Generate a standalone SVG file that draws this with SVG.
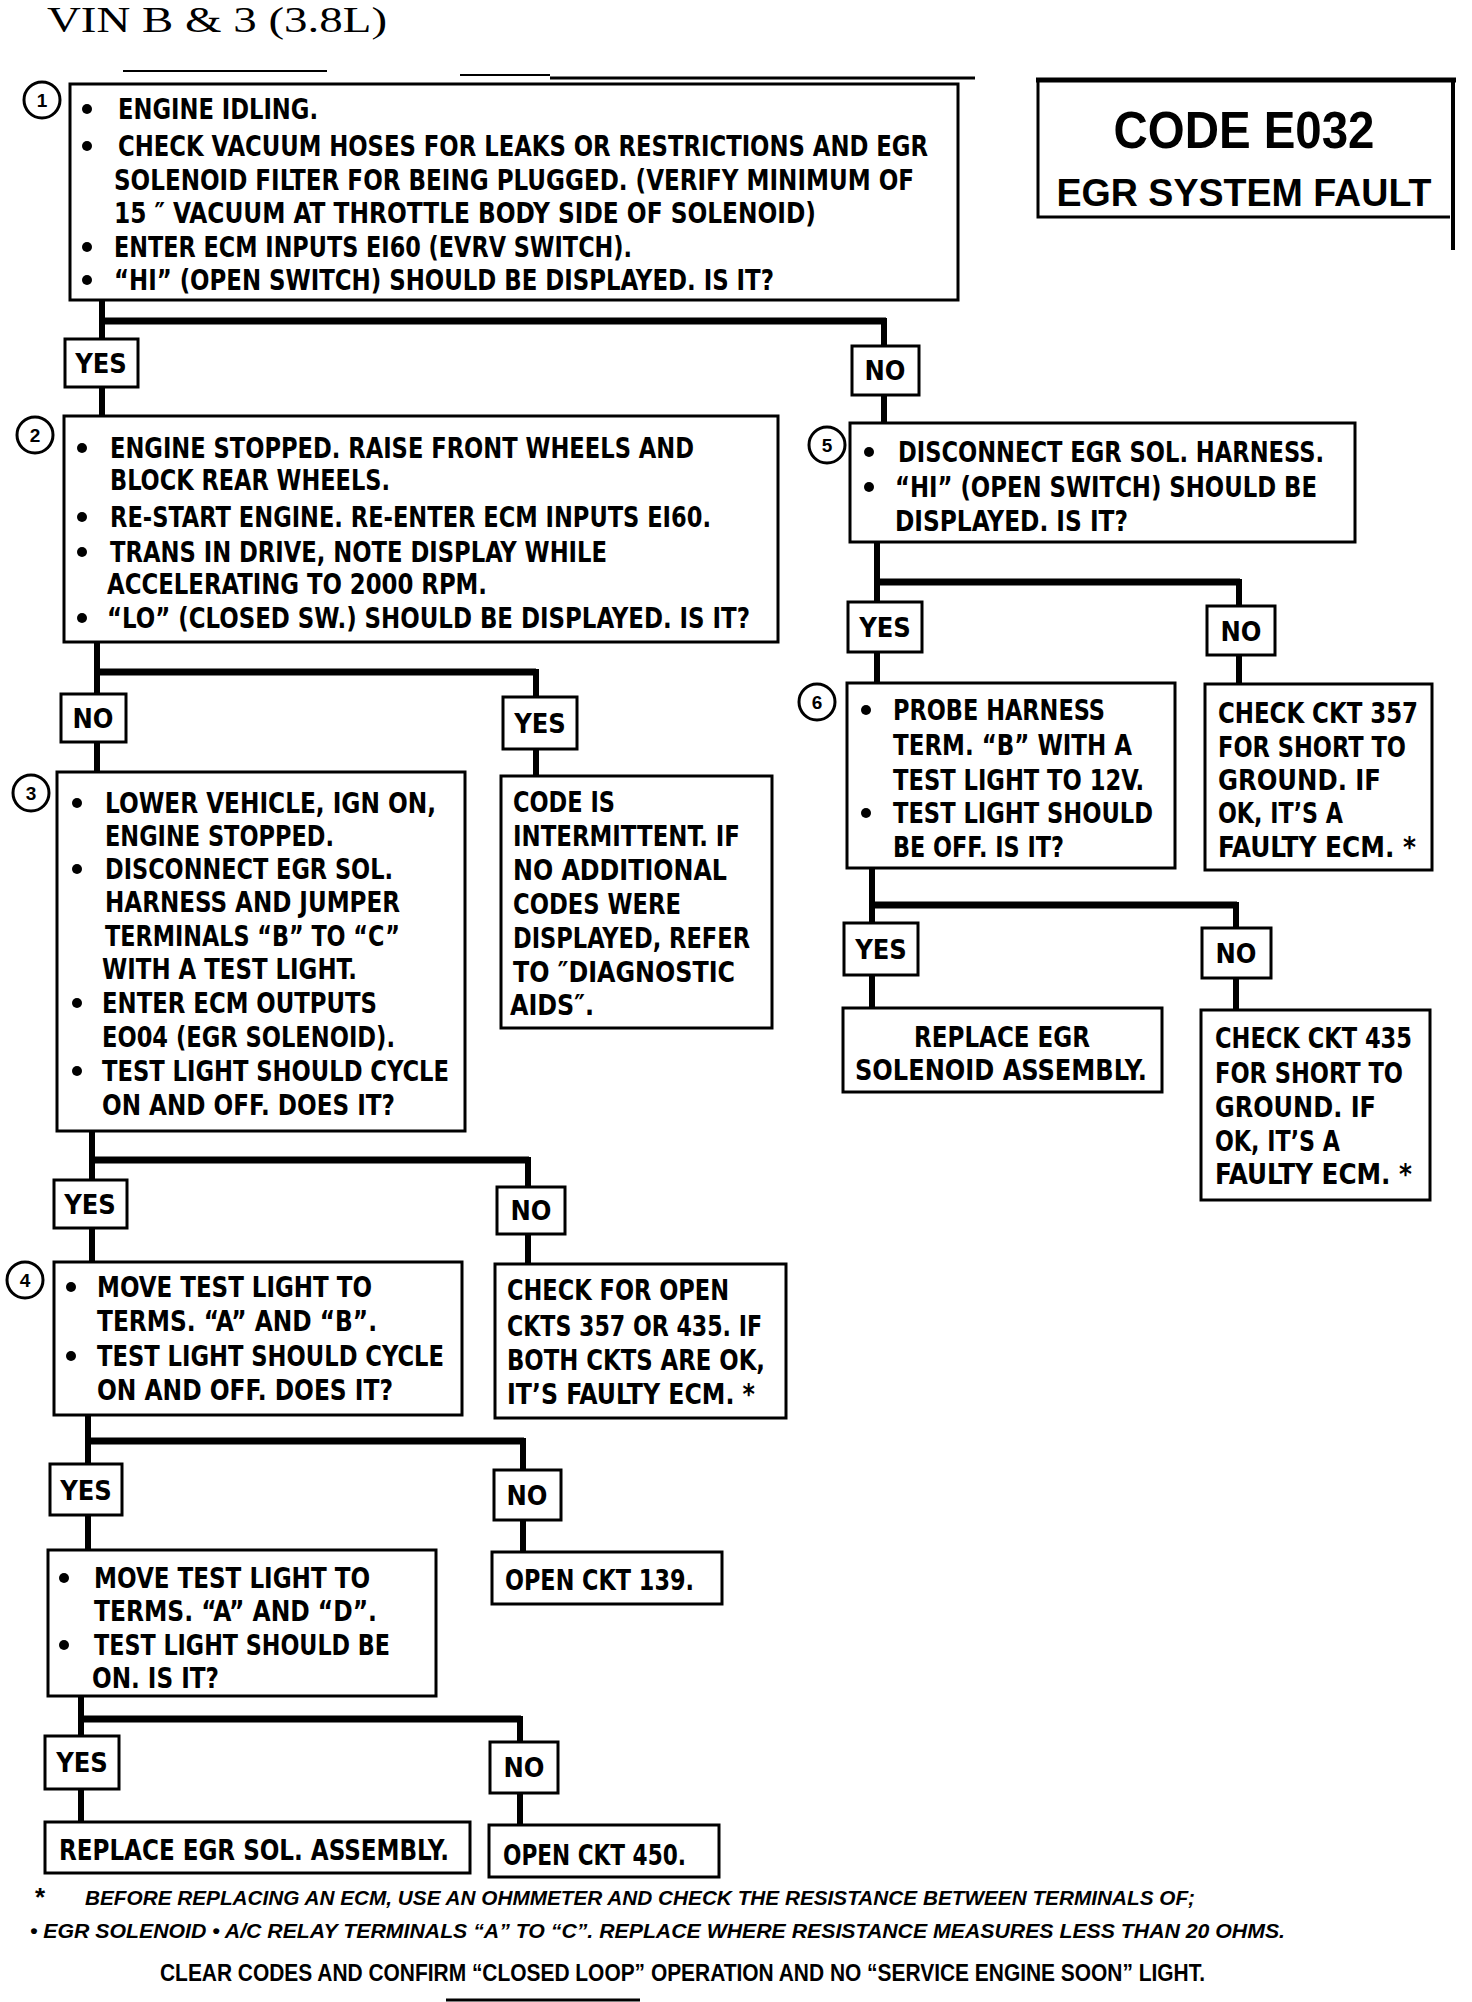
<svg xmlns="http://www.w3.org/2000/svg" width="1472" height="2002" viewBox="0 0 1472 2002">
<style>
.bx{fill:#fff;stroke:#000;stroke-width:3}
.lb{fill:#fff;stroke:#000;stroke-width:3}
.t{font-family:"Liberation Sans Narrow","DejaVu Sans Condensed","Liberation Sans",sans-serif;font-weight:bold;font-size:28px;fill:#000}
.lt{font-family:"Liberation Sans Narrow","DejaVu Sans Condensed","Liberation Sans",sans-serif;font-weight:bold;font-size:27px;fill:#000;text-anchor:middle}
.num{font-family:"Liberation Sans",sans-serif;font-weight:bold;font-size:19px;fill:#000;text-anchor:middle}
.fn{font-family:"Liberation Sans Narrow","Liberation Sans",sans-serif;font-weight:bold;font-style:italic;font-size:21px;fill:#000}
.fc{font-family:"Liberation Sans Narrow","Liberation Sans",sans-serif;font-weight:bold;font-size:24px;fill:#000}
.cn{fill:none;stroke:#000;stroke-width:6}
.hz{fill:none;stroke:#000;stroke-width:7}
.cc{fill:#fff;stroke:#000;stroke-width:3}
.art{stroke:#000;fill:none}
</style>
<defs>
<circle id="bul" r="5" fill="#000"/>
</defs>

<text x="47" y="32" font-family="Liberation Serif,serif" font-size="36" textLength="340" lengthAdjust="spacingAndGlyphs">VIN  B  &amp;  3  (3.8L)</text>

<g id="artifacts">
<line class="art" x1="123" y1="71" x2="327" y2="71" stroke-width="2"/>
<line class="art" x1="460" y1="75" x2="550" y2="75" stroke-width="2"/>
<line class="art" x1="550" y1="78" x2="975" y2="78" stroke-width="3"/>
<line class="art" x1="446" y1="2000" x2="640" y2="2000" stroke-width="3"/>
</g>

<g id="connectors">
<polyline class="cn" points="102,300 102,415"/>
<polyline class="hz" points="102,321 886,321"/>
<polyline class="cn" points="884,318 884,423"/>
<polyline class="cn" points="97,642 97,772"/>
<polyline class="hz" points="97,672 536,672"/>
<polyline class="cn" points="536,669 536,776"/>
<polyline class="cn" points="877,542 877,683"/>
<polyline class="hz" points="877,582 1240,582"/>
<polyline class="cn" points="1239,579 1239,684"/>
<polyline class="cn" points="872,868 872,1008"/>
<polyline class="hz" points="872,905 1237,905"/>
<polyline class="cn" points="1236,902 1236,1010"/>
<polyline class="cn" points="92,1131 92,1262"/>
<polyline class="hz" points="92,1160 529,1160"/>
<polyline class="cn" points="528,1157 528,1264"/>
<polyline class="cn" points="88,1415 88,1550"/>
<polyline class="hz" points="88,1441 524,1441"/>
<polyline class="cn" points="523,1438 523,1552"/>
<polyline class="cn" points="81,1696 81,1822"/>
<polyline class="hz" points="81,1719 521,1719"/>
<polyline class="cn" points="520,1716 520,1825"/>
</g>

<g id="labels">
<rect class="lb" x="65" y="339" width="73" height="48"/><text class="lt" x="101" y="373">YES</text>
<rect class="lb" x="852" y="346" width="67" height="49"/><text class="lt" x="885" y="380">NO</text>
<rect class="lb" x="61" y="694" width="65" height="48"/><text class="lt" x="93" y="728">NO</text>
<rect class="lb" x="503" y="697" width="74" height="52"/><text class="lt" x="540" y="733">YES</text>
<rect class="lb" x="848" y="602" width="74" height="50"/><text class="lt" x="885" y="637">YES</text>
<rect class="lb" x="1207" y="606" width="68" height="49"/><text class="lt" x="1241" y="641">NO</text>
<rect class="lb" x="844" y="923" width="74" height="52"/><text class="lt" x="881" y="959">YES</text>
<rect class="lb" x="1202" y="928" width="69" height="50"/><text class="lt" x="1236" y="963">NO</text>
<rect class="lb" x="54" y="1180" width="73" height="48"/><text class="lt" x="90" y="1214">YES</text>
<rect class="lb" x="497" y="1187" width="68" height="47"/><text class="lt" x="531" y="1220">NO</text>
<rect class="lb" x="50" y="1464" width="72" height="51"/><text class="lt" x="86" y="1500">YES</text>
<rect class="lb" x="494" y="1470" width="67" height="50"/><text class="lt" x="527" y="1505">NO</text>
<rect class="lb" x="45" y="1736" width="74" height="53"/><text class="lt" x="82" y="1772">YES</text>
<rect class="lb" x="490" y="1742" width="68" height="51"/><text class="lt" x="524" y="1777">NO</text>
</g>

<g id="node1">
<rect class="bx" x="70" y="84" width="888" height="216"/>
<circle class="cc" cx="42" cy="100" r="18"/><text class="num" x="42" y="107">1</text>
<use href="#bul" x="87" y="109"/>
<text class="t" x="118" y="119" textLength="200" lengthAdjust="spacingAndGlyphs">ENGINE IDLING.</text>
<use href="#bul" x="87" y="146"/>
<text class="t" x="118" y="156" textLength="810" lengthAdjust="spacingAndGlyphs">CHECK VACUUM HOSES FOR LEAKS OR RESTRICTIONS AND EGR</text>
<text class="t" x="114" y="190" textLength="800" lengthAdjust="spacingAndGlyphs">SOLENOID FILTER FOR BEING PLUGGED. (VERIFY MINIMUM OF</text>
<text class="t" x="114" y="223" textLength="702" lengthAdjust="spacingAndGlyphs">15 ″ VACUUM AT THROTTLE BODY SIDE OF SOLENOID)</text>
<use href="#bul" x="87" y="247"/>
<text class="t" x="114" y="257" textLength="518" lengthAdjust="spacingAndGlyphs">ENTER ECM INPUTS EI60 (EVRV SWITCH).</text>
<use href="#bul" x="87" y="280"/>
<text class="t" x="114" y="290" textLength="660" lengthAdjust="spacingAndGlyphs">“HI” (OPEN SWITCH) SHOULD BE DISPLAYED.  IS IT?</text>
</g>

<g id="title-box">
<polyline fill="none" stroke="#000" stroke-width="3" points="1038,80 1038,217 1450,217"/>
<line x1="1036" y1="80" x2="1456" y2="80" stroke="#000" stroke-width="5"/>
<line x1="1453" y1="78" x2="1453" y2="250" stroke="#000" stroke-width="4"/>
<text x="1244" y="148" font-family="Liberation Sans Narrow,Liberation Sans,sans-serif" font-weight="bold" font-size="52" text-anchor="middle" textLength="261" lengthAdjust="spacingAndGlyphs">CODE E032</text>
<text x="1244" y="206" font-family="Liberation Sans Narrow,Liberation Sans,sans-serif" font-weight="bold" font-size="38" text-anchor="middle" textLength="375" lengthAdjust="spacingAndGlyphs">EGR  SYSTEM FAULT</text>
</g>

<g id="node2">
<rect class="bx" x="64" y="416" width="714" height="226"/>
<circle class="cc" cx="35" cy="435" r="18"/><text class="num" x="35" y="442">2</text>
<use href="#bul" x="82" y="448"/>
<text class="t" x="110" y="458" textLength="584" lengthAdjust="spacingAndGlyphs">ENGINE STOPPED. RAISE FRONT WHEELS AND</text>
<text class="t" x="110" y="490" textLength="280" lengthAdjust="spacingAndGlyphs">BLOCK REAR WHEELS.</text>
<use href="#bul" x="82" y="517"/>
<text class="t" x="110" y="527" textLength="601" lengthAdjust="spacingAndGlyphs">RE-START ENGINE.  RE-ENTER ECM INPUTS EI60.</text>
<use href="#bul" x="82" y="552"/>
<text class="t" x="110" y="562" textLength="497" lengthAdjust="spacingAndGlyphs">TRANS IN DRIVE, NOTE DISPLAY WHILE</text>
<text class="t" x="107" y="594" textLength="380" lengthAdjust="spacingAndGlyphs">ACCELERATING TO 2000 RPM.</text>
<use href="#bul" x="82" y="618"/>
<text class="t" x="107" y="628" textLength="643" lengthAdjust="spacingAndGlyphs">“LO” (CLOSED SW.) SHOULD BE DISPLAYED.  IS IT?</text>
</g>

<g id="node5">
<rect class="bx" x="850" y="423" width="505" height="119"/>
<circle class="cc" cx="827" cy="445" r="18"/><text class="num" x="827" y="452">5</text>
<use href="#bul" x="869" y="452"/>
<text class="t" x="898" y="462" textLength="426" lengthAdjust="spacingAndGlyphs">DISCONNECT EGR SOL. HARNESS.</text>
<use href="#bul" x="869" y="487"/>
<text class="t" x="895" y="497" textLength="422" lengthAdjust="spacingAndGlyphs">“HI” (OPEN SWITCH) SHOULD BE</text>
<text class="t" x="895" y="531" textLength="233" lengthAdjust="spacingAndGlyphs">DISPLAYED.  IS IT?</text>
</g>

<g id="node6">
<rect class="bx" x="847" y="683" width="328" height="185"/>
<circle class="cc" cx="817" cy="702" r="18"/><text class="num" x="817" y="709">6</text>
<use href="#bul" x="866" y="710"/>
<text class="t" x="893" y="720" textLength="212" lengthAdjust="spacingAndGlyphs">PROBE HARNESS</text>
<text class="t" x="893" y="755" textLength="239" lengthAdjust="spacingAndGlyphs">TERM. “B” WITH A</text>
<text class="t" x="893" y="790" textLength="251" lengthAdjust="spacingAndGlyphs">TEST LIGHT TO 12V.</text>
<use href="#bul" x="866" y="813"/>
<text class="t" x="893" y="823" textLength="260" lengthAdjust="spacingAndGlyphs">TEST LIGHT SHOULD</text>
<text class="t" x="893" y="857" textLength="171" lengthAdjust="spacingAndGlyphs">BE OFF.  IS IT?</text>
</g>

<g id="node-ckt357">
<rect class="bx" x="1205" y="684" width="227" height="186"/>
<text class="t" x="1218" y="723" textLength="200" lengthAdjust="spacingAndGlyphs">CHECK CKT 357</text>
<text class="t" x="1218" y="757" textLength="188" lengthAdjust="spacingAndGlyphs">FOR SHORT TO</text>
<text class="t" x="1218" y="790" textLength="163" lengthAdjust="spacingAndGlyphs">GROUND.  IF</text>
<text class="t" x="1218" y="823" textLength="125" lengthAdjust="spacingAndGlyphs">OK, IT’S A</text>
<text class="t" x="1218" y="857" textLength="198" lengthAdjust="spacingAndGlyphs">FAULTY ECM. *</text>
</g>

<g id="node-replace-sol">
<rect class="bx" x="843" y="1008" width="319" height="84"/>
<text class="t" x="1002" y="1047" text-anchor="middle" textLength="176" lengthAdjust="spacingAndGlyphs">REPLACE EGR</text>
<text class="t" x="1001" y="1080" text-anchor="middle" textLength="292" lengthAdjust="spacingAndGlyphs">SOLENOID ASSEMBLY.</text>
</g>

<g id="node-ckt435">
<rect class="bx" x="1201" y="1010" width="229" height="190"/>
<text class="t" x="1215" y="1048" textLength="197" lengthAdjust="spacingAndGlyphs">CHECK CKT 435</text>
<text class="t" x="1215" y="1083" textLength="188" lengthAdjust="spacingAndGlyphs">FOR SHORT TO</text>
<text class="t" x="1215" y="1117" textLength="161" lengthAdjust="spacingAndGlyphs">GROUND.  IF</text>
<text class="t" x="1215" y="1151" textLength="125" lengthAdjust="spacingAndGlyphs">OK, IT’S A</text>
<text class="t" x="1215" y="1184" textLength="197" lengthAdjust="spacingAndGlyphs">FAULTY ECM. *</text>
</g>

<g id="node3">
<rect class="bx" x="57" y="772" width="408" height="359"/>
<circle class="cc" cx="31" cy="793" r="18"/><text class="num" x="31" y="800">3</text>
<use href="#bul" x="77" y="803"/>
<text class="t" x="105" y="813" textLength="331" lengthAdjust="spacingAndGlyphs">LOWER VEHICLE, IGN ON,</text>
<text class="t" x="105" y="846" textLength="229" lengthAdjust="spacingAndGlyphs">ENGINE STOPPED.</text>
<use href="#bul" x="77" y="869"/>
<text class="t" x="105" y="879" textLength="288" lengthAdjust="spacingAndGlyphs">DISCONNECT EGR SOL.</text>
<text class="t" x="105" y="912" textLength="295" lengthAdjust="spacingAndGlyphs">HARNESS AND JUMPER</text>
<text class="t" x="105" y="946" textLength="295" lengthAdjust="spacingAndGlyphs">TERMINALS “B” TO “C”</text>
<text class="t" x="102" y="979" textLength="255" lengthAdjust="spacingAndGlyphs">WITH A TEST LIGHT.</text>
<use href="#bul" x="77" y="1003"/>
<text class="t" x="102" y="1013" textLength="275" lengthAdjust="spacingAndGlyphs">ENTER ECM OUTPUTS</text>
<text class="t" x="102" y="1047" textLength="293" lengthAdjust="spacingAndGlyphs">EO04 (EGR SOLENOID).</text>
<use href="#bul" x="77" y="1071"/>
<text class="t" x="102" y="1081" textLength="347" lengthAdjust="spacingAndGlyphs">TEST LIGHT SHOULD CYCLE</text>
<text class="t" x="102" y="1115" textLength="293" lengthAdjust="spacingAndGlyphs">ON AND OFF.  DOES IT?</text>
</g>

<g id="node-intermittent">
<rect class="bx" x="501" y="776" width="271" height="252"/>
<text class="t" x="513" y="812" textLength="102" lengthAdjust="spacingAndGlyphs">CODE IS</text>
<text class="t" x="513" y="846" textLength="227" lengthAdjust="spacingAndGlyphs">INTERMITTENT. IF</text>
<text class="t" x="513" y="880" textLength="214" lengthAdjust="spacingAndGlyphs">NO ADDITIONAL</text>
<text class="t" x="513" y="914" textLength="168" lengthAdjust="spacingAndGlyphs">CODES WERE</text>
<text class="t" x="513" y="948" textLength="237" lengthAdjust="spacingAndGlyphs">DISPLAYED, REFER</text>
<text class="t" x="513" y="982" textLength="222" lengthAdjust="spacingAndGlyphs">TO ″DIAGNOSTIC</text>
<text class="t" x="510" y="1015" textLength="84" lengthAdjust="spacingAndGlyphs">AIDS″.</text>
</g>

<g id="node4">
<rect class="bx" x="54" y="1262" width="408" height="153"/>
<circle class="cc" cx="25" cy="1280" r="18"/><text class="num" x="25" y="1287">4</text>
<use href="#bul" x="71" y="1287"/>
<text class="t" x="97" y="1297" textLength="275" lengthAdjust="spacingAndGlyphs">MOVE TEST LIGHT TO</text>
<text class="t" x="97" y="1331" textLength="280" lengthAdjust="spacingAndGlyphs">TERMS. “A” AND “B”.</text>
<use href="#bul" x="71" y="1356"/>
<text class="t" x="97" y="1366" textLength="347" lengthAdjust="spacingAndGlyphs">TEST LIGHT SHOULD CYCLE</text>
<text class="t" x="97" y="1400" textLength="296" lengthAdjust="spacingAndGlyphs">ON AND OFF.  DOES IT?</text>
</g>

<g id="node-open-ckts">
<rect class="bx" x="495" y="1264" width="291" height="154"/>
<text class="t" x="507" y="1300" textLength="222" lengthAdjust="spacingAndGlyphs">CHECK FOR OPEN</text>
<text class="t" x="507" y="1336" textLength="255" lengthAdjust="spacingAndGlyphs">CKTS 357 OR 435.  IF</text>
<text class="t" x="507" y="1370" textLength="258" lengthAdjust="spacingAndGlyphs">BOTH CKTS ARE OK,</text>
<text class="t" x="507" y="1404" textLength="248" lengthAdjust="spacingAndGlyphs">IT’S FAULTY ECM. *</text>
</g>

<g id="node7">
<rect class="bx" x="48" y="1550" width="388" height="146"/>
<use href="#bul" x="64" y="1578"/>
<text class="t" x="94" y="1588" textLength="276" lengthAdjust="spacingAndGlyphs">MOVE TEST LIGHT TO</text>
<text class="t" x="94" y="1621" textLength="283" lengthAdjust="spacingAndGlyphs">TERMS. “A” AND “D”.</text>
<use href="#bul" x="64" y="1645"/>
<text class="t" x="94" y="1655" textLength="296" lengthAdjust="spacingAndGlyphs">TEST LIGHT SHOULD BE</text>
<text class="t" x="92" y="1688" textLength="127" lengthAdjust="spacingAndGlyphs">ON.  IS IT?</text>
</g>

<g id="node-ckt139">
<rect class="bx" x="492" y="1552" width="230" height="52"/>
<text class="t" x="505" y="1590" textLength="189" lengthAdjust="spacingAndGlyphs">OPEN CKT 139.</text>
</g>

<g id="node-replace-assembly">
<rect class="bx" x="45" y="1822" width="425" height="51"/>
<text class="t" x="59" y="1860" textLength="390" lengthAdjust="spacingAndGlyphs">REPLACE EGR SOL. ASSEMBLY.</text>
</g>

<g id="node-ckt450">
<rect class="bx" x="489" y="1825" width="230" height="52"/>
<text class="t" x="503" y="1865" textLength="183" lengthAdjust="spacingAndGlyphs">OPEN CKT 450.</text>
</g>

<g id="footnotes">
<text x="35" y="1906" font-family="Liberation Sans,sans-serif" font-weight="bold" font-size="26">*</text>
<text class="fn" x="85" y="1905" textLength="1110" lengthAdjust="spacingAndGlyphs">BEFORE REPLACING AN ECM, USE AN OHMMETER AND CHECK THE RESISTANCE BETWEEN TERMINALS OF;</text>
<text class="fn" x="30" y="1938" textLength="1255" lengthAdjust="spacingAndGlyphs">• EGR SOLENOID  • A/C RELAY TERMINALS “A” TO “C”.  REPLACE WHERE RESISTANCE MEASURES LESS THAN 20 OHMS.</text>
<text class="fc" x="160" y="1981" textLength="1045" lengthAdjust="spacingAndGlyphs">CLEAR CODES AND CONFIRM “CLOSED LOOP” OPERATION AND NO “SERVICE ENGINE SOON” LIGHT.</text>
</g>
</svg>
